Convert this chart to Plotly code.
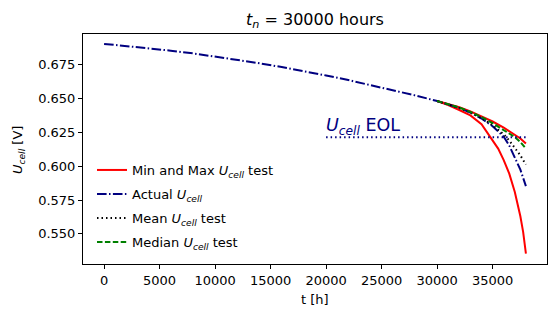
import plotly.graph_objects as go

# Actual cell voltage (whole life)
t_actual = [0, 2000, 4000, 6000, 8000, 10000, 12000, 14000, 16000, 18000, 20000,
            22000, 24000, 26000, 28000, 30000, 31000, 32000, 33000, 34000, 35000,
            35500, 36000, 36500, 37000, 37500, 38000]
u_actual = [0.6903, 0.6888, 0.6872, 0.6853, 0.6833, 0.6810, 0.6786, 0.6760, 0.6732,
            0.6702, 0.6670, 0.6636, 0.6600, 0.6562, 0.6523, 0.6481, 0.6458, 0.6430,
            0.6396, 0.6352, 0.6295, 0.6258, 0.6218, 0.6152, 0.6068, 0.5975, 0.5853]

# Test predictions (from t_n = 30000 h)
t_min = [30000, 31000, 32000, 33000, 34000, 35000, 35500, 36000, 36500, 37000, 37500, 37750, 38000]
u_min = [0.6481, 0.6452, 0.6415, 0.6375, 0.6310, 0.6195, 0.6130, 0.6045, 0.5945, 0.5810, 0.5630, 0.5515, 0.5355]

t_test = [30000, 31000, 32000, 33000, 34000, 35000, 36000, 36500, 37000, 37500, 38000]
u_max = [0.6481, 0.6460, 0.6435, 0.6405, 0.6370, 0.6330, 0.6285, 0.6260, 0.6235, 0.6205, 0.6167]
u_median = [0.6481, 0.6459, 0.6433, 0.6401, 0.6363, 0.6318, 0.6268, 0.6242, 0.6215, 0.6178, 0.6130]
u_mean = [0.6481, 0.6457, 0.6430, 0.6396, 0.6355, 0.6303, 0.6235, 0.6190, 0.6135, 0.6080, 0.6012]

eol_t = [20000, 38000]
eol_u = [0.6213, 0.6213]

UC = "<i>U</i><sub><i>cell</i></sub>"
FONT = "DejaVu Sans"
W, H = 556, 318
ML, MR, MT, MB = 83, 9, 34, 54
PW, PH = W - ML - MR, H - MT - MB

fig = go.Figure()
fig.add_trace(go.Scatter(x=t_min, y=u_min, mode="lines", line=dict(color="red", width=2),
                         name=f"Min and Max {UC} test", legend="legend"))
fig.add_trace(go.Scatter(x=t_test, y=u_max, mode="lines", line=dict(color="red", width=2),
                         showlegend=False))
fig.add_trace(go.Scatter(x=t_actual, y=u_actual, mode="lines",
                         line=dict(color="#000080", width=2, dash="9.6px,2.4px,1.5px,2.4px"),
                         name=f"Actual {UC}", legend="legend2"))
fig.add_trace(go.Scatter(x=t_test, y=u_mean, mode="lines",
                         line=dict(color="black", width=2, dash="1.5px,3px"),
                         name=f"Mean {UC} test", legend="legend3"))
fig.add_trace(go.Scatter(x=t_test, y=u_median, mode="lines",
                         line=dict(color="green", width=2, dash="5.5px,2.4px"),
                         name=f"Median {UC} test", legend="legend4"))
fig.add_trace(go.Scatter(x=eol_t, y=eol_u, mode="lines",
                         line=dict(color="#000080", width=2, dash="1.5px,3px"),
                         showlegend=False))

fig.add_annotation(x=eol_t[0], y=eol_u[0], xref="x", yref="y", text=f"{UC} EOL",
                   showarrow=False, xanchor="left", yanchor="bottom", yshift=-3, xshift=-2,
                   font=dict(color="#000080", size=17.5, family=FONT))

# axis titles as annotations (pixel placement)
fig.add_annotation(x=(18 - ML) / PW, y=(H - MB - 150) / PH, xref="paper", yref="paper",
                   text=f"{UC} [V]", textangle=-90, showarrow=False,
                   xanchor="center", yanchor="middle",
                   font=dict(size=13, color="black", family=FONT))
fig.add_annotation(x=(315 - ML) / PW, y=(H - MB - 299) / PH, xref="paper", yref="paper",
                   text="t [h]", showarrow=False, xanchor="center", yanchor="middle",
                   font=dict(size=13, color="black", family=FONT))

axis_common = dict(showgrid=False, zeroline=False, showline=True, linecolor="black",
                   linewidth=1, mirror=True, ticks="outside", ticklen=4, tickcolor="black",
                   automargin=False,
                   tickfont=dict(size=13, color="black", family=FONT))

fig.update_xaxes(range=[-1900, 39900], tickvals=[0, 5000, 10000, 15000, 20000, 25000, 30000, 35000],
                 ticktext=["0", "5000", "10000", "15000", "20000", "25000", "30000", "35000"],
                 **axis_common)
fig.update_yaxes(range=[0.5278, 0.6976], tickvals=[0.550, 0.575, 0.600, 0.625, 0.650, 0.675],
                 ticktext=["0.550", "0.575", "0.600", "0.625", "0.650", "0.675"],
                 **axis_common)

def leg(center_y):
    return dict(xref="container", yref="container", x=92 / W, y=1 - (center_y - 16) / H,
                xanchor="left", yanchor="top", bgcolor="rgba(0,0,0,0)",
                font=dict(size=13, color="black", family=FONT), itemwidth=30)

fig.update_layout(
    width=W, height=H,
    margin=dict(l=ML, r=MR, t=MT, b=MB, autoexpand=False),
    paper_bgcolor="white", plot_bgcolor="white",
    title=dict(text="<i>t</i><sub><i>n</i></sub> = 30000 hours", x=0.5, xanchor="center",
               xref="paper", y=1 - 19 / H, yanchor="middle",
               font=dict(size=16, color="black", family=FONT)),
    legend=leg(171), legend2=leg(195), legend3=leg(219), legend4=leg(243),
    showlegend=True,
)

fig.write_html("out.html", config={"displayModeBar": False},
               post_script="document.body.style.margin='0';")
